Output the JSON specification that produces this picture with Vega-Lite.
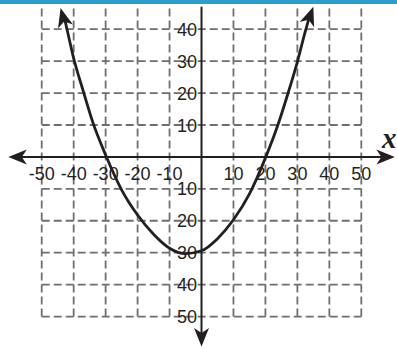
{
  "$schema": "https://vega.github.io/schema/vega-lite/v6.json",
  "width": 397,
  "height": 349,
  "autosize": "none",
  "padding": 0,
  "background": "white",
  "config": {"view": {"stroke": null}},
  "datasets": {
    "vgrid": [
      {"x": -50, "y": -50, "y2": 47}, {"x": -40, "y": -50, "y2": 47}, {"x": -30, "y": -50, "y2": 47},
      {"x": -20, "y": -50, "y2": 47}, {"x": -10, "y": -50, "y2": 47}, {"x": 10, "y": -50, "y2": 47},
      {"x": 20, "y": -50, "y2": 47}, {"x": 30, "y": -50, "y2": 47}, {"x": 40, "y": -50, "y2": 47},
      {"x": 50, "y": -50, "y2": 47}
    ],
    "hgrid": [
      {"y": 40, "x": -50, "x2": 50}, {"y": 30, "x": -50, "x2": 50}, {"y": 20, "x": -50, "x2": 50},
      {"y": 10, "x": -50, "x2": 50}, {"y": -10, "x": -50, "x2": 50}, {"y": -20, "x": -50, "x2": 50},
      {"y": -30, "x": -50, "x2": 50}, {"y": -40, "x": -50, "x2": 50}, {"y": -50, "x": -50, "x2": 50}
    ],
    "axes": [
      {"x": -57.5, "x2": 57.5, "y": 0, "y2": 0},
      {"x": 0, "x2": 0, "y": 47, "y2": -56.3}
    ],
    "curve": [
      {"x": -43.0, "y": 44.0}, {"x": -42, "y": 39.6}, {"x": -40, "y": 30.9}, {"x": -37, "y": 20.6},
      {"x": -34, "y": 10.8}, {"x": -30, "y": 0.6}, {"x": -25, "y": -10.3}, {"x": -20, "y": -18.2},
      {"x": -15, "y": -24.2}, {"x": -10, "y": -28.6}, {"x": -5, "y": -30.3}, {"x": 0, "y": -29.4},
      {"x": 5, "y": -25.6}, {"x": 10, "y": -19.7}, {"x": 15, "y": -11.6}, {"x": 20, "y": -0.3},
      {"x": 24, "y": 10.3}, {"x": 27, "y": 19.7}, {"x": 30, "y": 29.8}, {"x": 32.5, "y": 39.4},
      {"x": 33.8, "y": 44.0}
    ],
    "arrows": [
      {"x": -60.45, "y": 0, "end": "left"},
      {"x": 60.5, "y": 0, "end": "right"},
      {"x": 0, "y": -59.4, "end": "down"},
      {"x": -44.1, "y": 46.6, "end": "curveL"},
      {"x": 35.0, "y": 47.0, "end": "curveR"}
    ],
    "band": [{"x": -63.05, "x2": 61.17, "y": 47.9, "y2": 49.14}],
    "xlabels": [
      {"x": -50, "label": "-50"}, {"x": -40, "label": "-40"}, {"x": -30, "label": "-30"},
      {"x": -20, "label": "-20"}, {"x": -10, "label": "-10"}, {"x": 10, "label": "10"},
      {"x": 20, "label": "20"}, {"x": 30, "label": "30"}, {"x": 40, "label": "40"}, {"x": 50, "label": "50"}
    ],
    "ylabels": [
      {"y": 40, "label": "40"}, {"y": 30, "label": "30"}, {"y": 20, "label": "20"}, {"y": 10, "label": "10"},
      {"y": -10, "label": "10"}, {"y": -20, "label": "20"}, {"y": -30, "label": "30"},
      {"y": -40, "label": "40"}, {"y": -50, "label": "50"}
    ],
    "title": [{"label": "x"}]
  },
  "layer": [
    {
      "data": {"name": "band"},
      "mark": {"type": "rect", "color": "#2b9fcf"},
      "encoding": {
        "x": {"field": "x", "type": "quantitative", "scale": {"domain": [-63.05, 61.17], "nice": false, "zero": false}, "axis": null},
        "x2": {"field": "x2"},
        "y": {"field": "y", "type": "quantitative", "scale": {"domain": [-60.16, 49.14], "nice": false, "zero": false}, "axis": null},
        "y2": {"field": "y2"}
      }
    },
    {
      "data": {"name": "vgrid"},
      "mark": {"type": "rule", "color": "#6f6f6f", "strokeWidth": 1.8, "strokeDash": [8, 4]},
      "encoding": {
        "x": {"field": "x", "type": "quantitative", "scale": {"domain": [-63.05, 61.17], "nice": false, "zero": false}, "axis": null},
        "y": {"field": "y", "type": "quantitative", "scale": {"domain": [-60.16, 49.14], "nice": false, "zero": false}, "axis": null},
        "y2": {"field": "y2"}
      }
    },
    {
      "data": {"name": "hgrid"},
      "mark": {"type": "rule", "color": "#6f6f6f", "strokeWidth": 1.8, "strokeDash": [8, 4]},
      "encoding": {
        "y": {"field": "y", "type": "quantitative", "scale": {"domain": [-60.16, 49.14], "nice": false, "zero": false}, "axis": null},
        "x": {"field": "x", "type": "quantitative", "scale": {"domain": [-63.05, 61.17], "nice": false, "zero": false}, "axis": null},
        "x2": {"field": "x2"}
      }
    },
    {
      "data": {"name": "xlabels"},
      "mark": {"type": "text", "font": "Liberation Sans", "fontSize": 18, "color": "#231f20", "align": "center", "baseline": "alphabetic"},
      "encoding": {
        "x": {"field": "x", "type": "quantitative", "scale": {"domain": [-63.05, 61.17], "nice": false, "zero": false}, "axis": null},
        "y": {"datum": -7.3, "type": "quantitative", "scale": {"domain": [-60.16, 49.14], "nice": false, "zero": false}, "axis": null},
        "text": {"field": "label"}
      }
    },
    {
      "data": {"name": "ylabels"},
      "mark": {"type": "text", "font": "Liberation Sans", "fontSize": 18, "color": "#231f20", "align": "right", "baseline": "alphabetic", "dy": 6.6},
      "encoding": {
        "x": {"datum": -1.4, "type": "quantitative", "scale": {"domain": [-63.05, 61.17], "nice": false, "zero": false}, "axis": null},
        "y": {"field": "y", "type": "quantitative", "scale": {"domain": [-60.16, 49.14], "nice": false, "zero": false}, "axis": null},
        "text": {"field": "label"}
      }
    },
    {
      "data": {"name": "axes"},
      "mark": {"type": "rule", "color": "#231f20", "strokeWidth": 2},
      "encoding": {
        "x": {"field": "x", "type": "quantitative", "scale": {"domain": [-63.05, 61.17], "nice": false, "zero": false}, "axis": null},
        "x2": {"field": "x2"},
        "y": {"field": "y", "type": "quantitative", "scale": {"domain": [-60.16, 49.14], "nice": false, "zero": false}, "axis": null},
        "y2": {"field": "y2"}
      }
    },
    {
      "data": {"name": "curve"},
      "mark": {"type": "line", "color": "#231f20", "strokeWidth": 2.8, "interpolate": "monotone"},
      "encoding": {
        "x": {"field": "x", "type": "quantitative", "scale": {"domain": [-63.05, 61.17], "nice": false, "zero": false}, "axis": null},
        "y": {"field": "y", "type": "quantitative", "scale": {"domain": [-60.16, 49.14], "nice": false, "zero": false}, "axis": null}
      }
    },
    {
      "data": {"name": "arrows"},
      "transform": [{"filter": "datum.end === 'left'"}],
      "mark": {"type": "point", "shape": "M0,0L0.75,1.85L0,1.35L-0.75,1.85Z", "size": 400, "filled": true, "color": "#231f20", "opacity": 1, "strokeWidth": 0, "angle": 270},
      "encoding": {
        "x": {"field": "x", "type": "quantitative", "scale": {"domain": [-63.05, 61.17], "nice": false, "zero": false}, "axis": null},
        "y": {"field": "y", "type": "quantitative", "scale": {"domain": [-60.16, 49.14], "nice": false, "zero": false}, "axis": null}
      }
    },
    {
      "data": {"name": "arrows"},
      "transform": [{"filter": "datum.end === 'right'"}],
      "mark": {"type": "point", "shape": "M0,0L0.75,1.85L0,1.35L-0.75,1.85Z", "size": 400, "filled": true, "color": "#231f20", "opacity": 1, "strokeWidth": 0, "angle": 90},
      "encoding": {
        "x": {"field": "x", "type": "quantitative", "scale": {"domain": [-63.05, 61.17], "nice": false, "zero": false}, "axis": null},
        "y": {"field": "y", "type": "quantitative", "scale": {"domain": [-60.16, 49.14], "nice": false, "zero": false}, "axis": null}
      }
    },
    {
      "data": {"name": "arrows"},
      "transform": [{"filter": "datum.end === 'down'"}],
      "mark": {"type": "point", "shape": "M0,0L0.75,1.85L0,1.35L-0.75,1.85Z", "size": 400, "filled": true, "color": "#231f20", "opacity": 1, "strokeWidth": 0, "angle": 180},
      "encoding": {
        "x": {"field": "x", "type": "quantitative", "scale": {"domain": [-63.05, 61.17], "nice": false, "zero": false}, "axis": null},
        "y": {"field": "y", "type": "quantitative", "scale": {"domain": [-60.16, 49.14], "nice": false, "zero": false}, "axis": null}
      }
    },
    {
      "data": {"name": "arrows"},
      "transform": [{"filter": "datum.end === 'curveL'"}],
      "mark": {"type": "point", "shape": "M0,0L0.75,1.85L0,1.35L-0.75,1.85Z", "size": 420, "filled": true, "color": "#231f20", "opacity": 1, "strokeWidth": 0, "angle": 345},
      "encoding": {
        "x": {"field": "x", "type": "quantitative", "scale": {"domain": [-63.05, 61.17], "nice": false, "zero": false}, "axis": null},
        "y": {"field": "y", "type": "quantitative", "scale": {"domain": [-60.16, 49.14], "nice": false, "zero": false}, "axis": null}
      }
    },
    {
      "data": {"name": "arrows"},
      "transform": [{"filter": "datum.end === 'curveR'"}],
      "mark": {"type": "point", "shape": "M0,0L0.75,1.85L0,1.35L-0.75,1.85Z", "size": 420, "filled": true, "color": "#231f20", "opacity": 1, "strokeWidth": 0, "angle": 20},
      "encoding": {
        "x": {"field": "x", "type": "quantitative", "scale": {"domain": [-63.05, 61.17], "nice": false, "zero": false}, "axis": null},
        "y": {"field": "y", "type": "quantitative", "scale": {"domain": [-60.16, 49.14], "nice": false, "zero": false}, "axis": null}
      }
    },
    {
      "data": {"name": "title"},
      "mark": {"type": "text", "font": "Liberation Serif", "fontStyle": "italic", "fontWeight": "bold", "fontSize": 29, "color": "#231f20", "align": "left", "baseline": "alphabetic"},
      "encoding": {
        "x": {"datum": 56.5, "type": "quantitative", "scale": {"domain": [-63.05, 61.17], "nice": false, "zero": false}, "axis": null},
        "y": {"datum": 2.8, "type": "quantitative", "scale": {"domain": [-60.16, 49.14], "nice": false, "zero": false}, "axis": null},
        "text": {"field": "label"}
      }
    }
  ]
}
